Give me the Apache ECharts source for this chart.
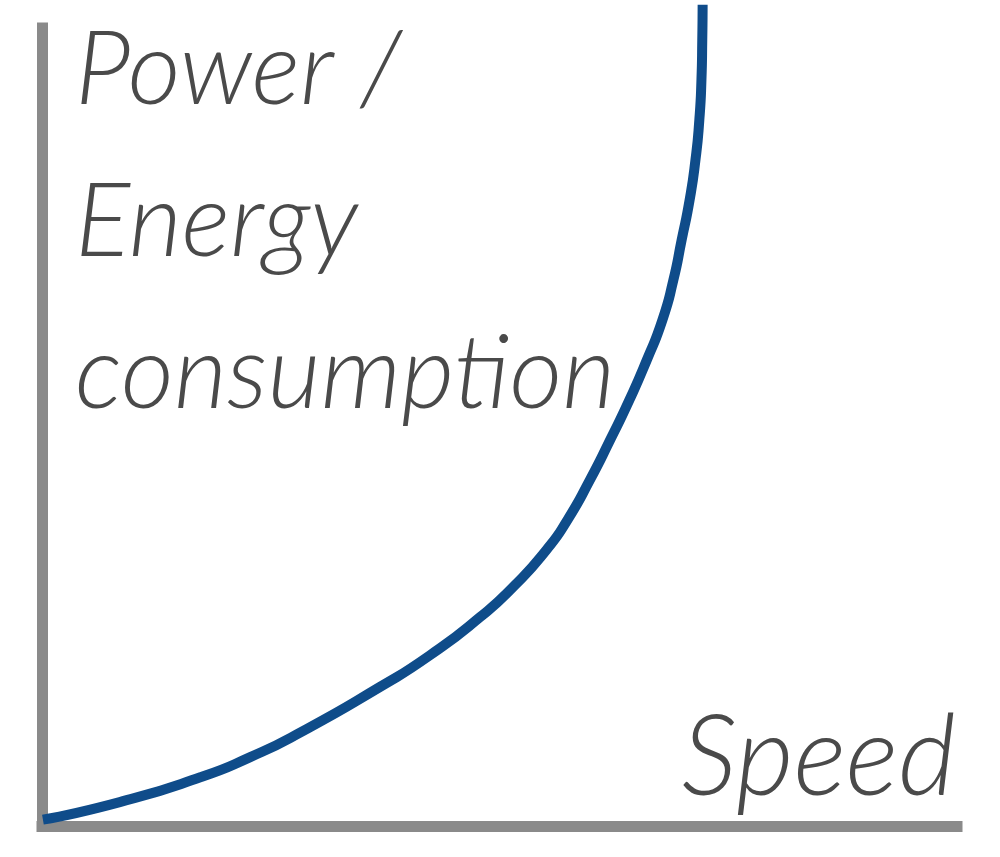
<!DOCTYPE html>
<html>
<head>
<meta charset="utf-8">
<script src="https://cdn.jsdelivr.net/npm/echarts@6/dist/echarts.min.js"></script>
<style>
html,body{margin:0;padding:0;background:#fff;}
#chart{width:1000px;height:857px;}
</style>
</head>
<body>
<div id="chart"></div>
<script>
// Speed (relative, 0-100) vs Power / Energy consumption (relative, 0-100)
const speed = [0.1, 8.5, 17.3, 22.7, 28.2, 36.9, 42.4, 47.9, 51.7, 55.2, 57.4, 59.9, 62.1, 64.2, 66.1, 67.8, 69.0, 69.9, 70.77, 71.42, 71.84, 72.07, 72.16, 72.2];
const power = [0.8, 3.0, 6.1, 8.6, 11.7, 17.4, 21.4, 26.2, 30.2, 34.7, 38.3, 43.4, 48.4, 53.4, 58.4, 63.4, 68.4, 73.4, 78.4, 83.5, 88.5, 93.5, 98.5, 102.9];
const yTitleLines = ['Power /', 'Energy', 'consumption'];
const xTitle = 'Speed';

const chart = echarts.init(document.getElementById('chart'));
const textColor = '#4a4a4a';
const fontFamily = 'Lato';
const titleFont = {fontFamily: fontFamily, fontStyle: 'italic', fontWeight: 300, fill: textColor};

const graphics = yTitleLines.map((t, i) => ({
  type: 'text', left: 75, top: 19 + i * 152, z: 10,
  style: Object.assign({text: t, fontSize: 103}, titleFont)
}));
graphics.push({
  type: 'text', right: 44, top: 703, z: 10,
  style: Object.assign({text: xTitle, fontSize: 112}, titleFont)
});

chart.setOption({
  animation: false,
  grid: {left: 42, right: 43, top: 28, bottom: 31, containLabel: false},
  xAxis: {
    type: 'value', min: 0, max: 100,
    axisLine: {show: true, onZero: false, lineStyle: {color: '#8a8a8a', width: 11, cap: 'square'}},
    axisTick: {show: false}, axisLabel: {show: false}, splitLine: {show: false}
  },
  yAxis: {
    type: 'value', min: 0, max: 100,
    axisLine: {show: true, onZero: false, lineStyle: {color: '#8a8a8a', width: 11, cap: 'square'}},
    axisTick: {show: false}, axisLabel: {show: false}, splitLine: {show: false}
  },
  graphic: graphics,
  series: [{
    type: 'line',
    data: speed.map((s, i) => [s, power[i]]),
    smooth: 0.6,
    clip: false,
    showSymbol: false,
    lineStyle: {color: '#0f4c8a', width: 10},
    z: 5
  }]
});
</script>
</body>
</html>
